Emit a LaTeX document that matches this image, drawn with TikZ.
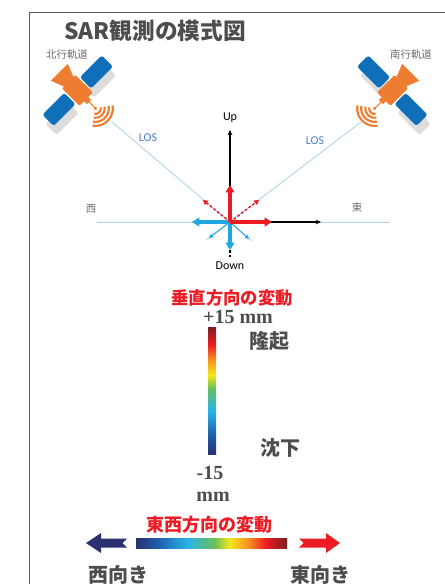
\documentclass[tikz,border=0pt]{standalone}
\usepackage{fontspec}
\setmainfont{Liberation Serif}
\newfontfamily\jp{Noto Sans CJK JP}
\newfontfamily\carl{Carlito}
\usetikzlibrary{arrows.meta}

\definecolor{framegray}{HTML}{5A5A5A}
\definecolor{txtgray}{HTML}{4D4D4D}
\definecolor{lightgray}{HTML}{6E6E6E}
\definecolor{losblue}{HTML}{A9D1EE}
\definecolor{loslabel}{HTML}{4A7EC8}
\definecolor{dispred}{HTML}{EC1C24}
\definecolor{dispblue}{HTML}{1EA7E1}
\definecolor{panelblue}{HTML}{0F6FB8}
\definecolor{satorange}{HTML}{EE7D31}
\definecolor{shadowgray}{HTML}{DCDCDC}
\definecolor{navy}{HTML}{2B3070}
\definecolor{darkred}{HTML}{7A1E1E}
\definecolor{cbA}{HTML}{1F5FAE}
\definecolor{cbB}{HTML}{27B5E8}
\definecolor{cbC}{HTML}{6BBF5A}
\definecolor{cbD}{HTML}{F4E81C}
\definecolor{cbE}{HTML}{F7941E}
\definecolor{cbF}{HTML}{EC1C24}

% colour scale: navy (negative) to dark red (positive)
\pgfdeclarehorizontalshading{dispscale}{100bp}{%
  color(0bp)=(navy); color(25bp)=(navy); color(32.5bp)=(cbA);
  color(42bp)=(cbB); color(51bp)=(cbC); color(56bp)=(cbD);
  color(62bp)=(cbE); color(68bp)=(cbF); color(75bp)=(darkred);
  color(100bp)=(darkred)}

% solar panels of a satellite (local frame: x toward the antenna)
\newcommand\satpanels[1]{%
  \fill[#1, rounded corners=2] (-7,11) rectangle (9,42);
  \fill[#1, rounded corners=2] (-7,-11) rectangle (9,-42);
}
% orange bus, antenna and radar waves
\newcommand\satcore{%
  \fill[satorange] (-10,-6) -- (-25,-12) -- (-25,12) -- (-10,6) -- cycle;
  \fill[satorange, rounded corners=1.5] (-12,-9.5) rectangle (13,9.5);
  \fill[satorange] (13,-3) rectangle (17,3);
  \draw[satorange, line width=0.8] (17,0) -- (26,0);
  \fill[satorange] (26,0) circle (1.8);
  \foreach \r in {5.5,9.5,13.5,17.5}
    \draw[satorange, line width=1.6] (26,0) ++(-55:\r)
      arc[start angle=-55, end angle=55, radius=\r];
}

\tikzset{
  x=0.75pt, y=-0.75pt,
  smalltxt/.style={font=\jp\fontsize{7.8}{9}\selectfont, text=lightgray, inner sep=0},
  axislbl/.style={font=\carl\fontsize{9}{10}\selectfont, text=black, inner sep=0},
  loslbl/.style={font=\carl\fontsize{9}{10}\selectfont, text=loslabel, inner sep=0},
  redhead/.style={font=\jp\bfseries\fontsize{13}{15}\selectfont, text=dispred, inner sep=0},
  biglbl/.style={font=\jp\bfseries\fontsize{15}{17}\selectfont, text=txtgray, inner sep=0},
  numlbl/.style={font=\bfseries\fontsize{15}{17}\selectfont, text=txtgray, inner sep=0},
  losline/.style={losblue, line width=0.6},
  axisarrow/.style={black, line width=1.1, -{Stealth[length=4pt,width=3.5pt]}},
  bigvec/.style={line width=2.3, -{Triangle[length=5.5pt,width=6.5pt]}},
  losvec/.style={line width=1.1, dashed, dash pattern=on 2pt off 1.5pt, -{Triangle[length=3.5pt,width=4pt]}},
  smallvec/.style={line width=0.7, -{Triangle[length=3pt,width=3pt]}},
}

\begin{document}
\begin{tikzpicture}
\useasboundingbox (0,0) rectangle (445,584);
\clip (0,0) rectangle (445,584);
\fill[white] (0,0) rectangle (445,584);

% panel frame
\draw[framegray, line width=1.1] (29.5,600) |- (470,12.5);

% title and orbit labels
\node[font=\jp\bfseries\fontsize{17}{20}\selectfont, text=txtgray, inner sep=0] (title) at (155,31) {SAR観測の模式図};
\node[smalltxt] (north) at (67,55) {北行軌道};
\node[smalltxt] (south) at (411,55) {南行軌道};

% satellites (soft shadow first)
\begin{scope}[shift={(80,99)}, rotate=-45] \satpanels{shadowgray} \end{scope}
\begin{scope}[shift={(77,90)}, rotate=-45] \satpanels{panelblue} \satcore \end{scope}
\begin{scope}[shift={(396,99)}, xscale=-1, rotate=-45] \satpanels{shadowgray} \end{scope}
\begin{scope}[shift={(393,90)}, xscale=-1, rotate=-45] \satpanels{panelblue} \satcore \end{scope}

% geometry of the observation
\coordinate (O) at (230,222);
\coordinate (losL) at (112,122);
\coordinate (losLend) at (252,241);
\coordinate (losR) at (361,122);
\coordinate (losRend) at (206,240);
\coordinate (west) at (97,222);
\coordinate (east) at (390,222);
\draw[losline] (losL) -- (losLend);
\draw[losline] (losR) -- (losRend);
\draw[losline] (west) -- (east);

\node[loslbl] (losLlbl) at (148,138) {LOS};
\node[loslbl] (losRlbl) at (315,141) {LOS};
\node[smalltxt] (westlbl) at (91,209) {西};
\node[smalltxt] (eastlbl) at (357,208) {東};
\node[axislbl] (up) at (230,118) {Up};
\node[axislbl] (down) at (230,266) {Down};

% reference axes
\coordinate (upend) at (230,130);
\coordinate (eastend) at (321,222);
\draw[axisarrow] (O) -- (upend);
\draw[axisarrow] (O) -- (eastend);
\coordinate (dashA) at (230,250);
\coordinate (dashB) at (230,259);
\draw[black, line width=1.1, dash pattern=on 2pt off 1.5pt] (dashA) -- (dashB);

% displacement vectors
\coordinate (vup) at (230,185);
\coordinate (veast) at (272,222);
\coordinate (vwest) at (192,222);
\coordinate (vdown) at (230,250);
\coordinate (vlosL) at (203,200);
\coordinate (vlosR) at (259,200);
\coordinate (vlowL) at (209,238);
\coordinate (vlowR) at (249,239);
\draw[losvec, dispred] (O) -- (vlosL);
\draw[losvec, dispred] (O) -- (vlosR);
\draw[smallvec, dispblue] (O) -- (vlowL);
\draw[smallvec, dispblue] (O) -- (vlowR);
\draw[bigvec, dispblue] (O) -- (vwest);
\draw[bigvec, dispblue] (O) -- (vdown);
\draw[bigvec, dispred] (O) -- (vup);
\draw[bigvec, dispred] (O) -- (veast);

% vertical colour scale
\node[redhead] (vtitle) at (232,298) {垂直方向の変動};
\node[numlbl] (vmax) at (238,317) {+15 mm};
\shade[shading=dispscale, shading angle=90] (208,327) rectangle (216,454);
\node[biglbl] (uplift) at (269,341) {隆起};
\node[biglbl] (subs) at (280,448) {沈下};
\node[numlbl] (vmin) at (210,473) {-15};
\node[numlbl] (vminu) at (213,497) {mm};

% east-west colour scale
\node[redhead, font=\jp\bfseries\fontsize{13.5}{15}\selectfont] (htitle) at (209,525) {東西方向の変動};
\shade[shading=dispscale] (136,538) rectangle (287,548);
\fill[navy] (86,543) -- (101,533) -- (101,538.5) -- (127,538.5) -- (122.5,543)
  -- (127,547.5) -- (101,547.5) -- (101,553) -- cycle;
\fill[dispred] (299,538.5) -- (326,538.5) -- (326,533) -- (340,543) -- (326,553)
  -- (326,547.5) -- (299,547.5) -- (303.5,543) -- cycle;
\node[biglbl] (westward) at (118,575) {西向き};
\node[biglbl] (eastward) at (320,575) {東向き};
\end{tikzpicture}
\end{document}
